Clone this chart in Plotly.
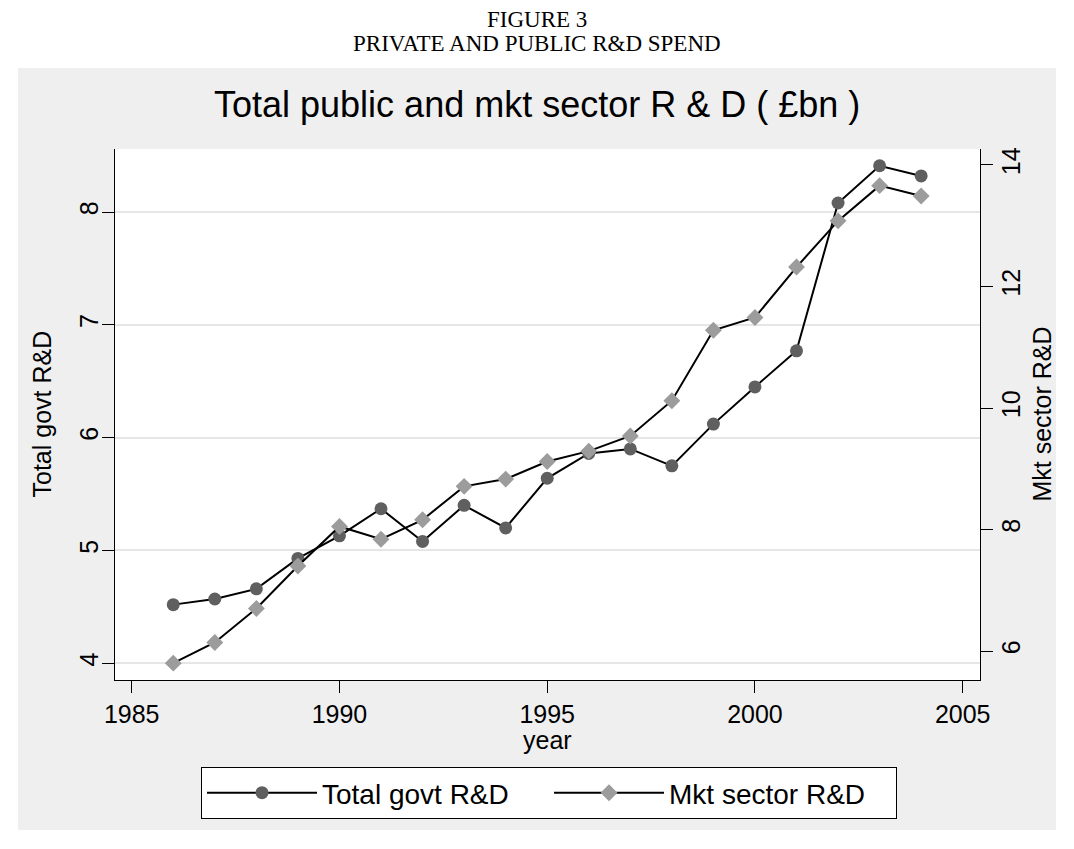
import plotly.graph_objects as go

# ---- data ----
years = list(range(1986, 2005))
govt_rd = [4.52, 4.57, 4.66, 4.93, 5.13, 5.37, 5.08, 5.40, 5.20, 5.64,
           5.86, 5.90, 5.75, 6.12, 6.45, 6.77, 8.08, 8.41, 8.32]
mkt_rd = [5.80, 6.14, 6.70, 7.40, 8.05, 7.84, 8.16, 8.71, 8.83, 9.12,
          9.29, 9.54, 10.12, 11.28, 11.49, 12.32, 13.08, 13.66, 13.49]
x_ticks = [1985, 1990, 1995, 2000, 2005]
y_left_ticks = [4, 5, 6, 7, 8]
y_right_ticks = [6, 8, 10, 12, 14]

header1 = "FIGURE 3"
header2 = "PRIVATE AND PUBLIC R&D SPEND"
chart_title = "Total public and mkt sector R & D ( £bn )"

# ---- layout geometry (pixels in the 1074x849 page) ----
OFF = 8                      # default page margin of the html body
W, H = 1074 - OFF, 849 - OFF
L, R, T, B = 115, 980, 149, 680


def px_x(px):
    return (px - L) / (R - L)


def px_y(py):
    return (B - py) / (B - T)


SANS = "Liberation Sans, Arial, sans-serif"
SERIF = "Liberation Serif, Times New Roman, serif"

fig = go.Figure()
fig.add_trace(go.Scatter(
    x=years, y=govt_rd, name="Total govt R&D", mode="lines+markers",
    line=dict(color="black", width=2),
    marker=dict(symbol="circle", size=13, color="#5f5f5f"),
    yaxis="y"))
fig.add_trace(go.Scatter(
    x=years, y=mkt_rd, name="Mkt sector R&D", mode="lines+markers",
    line=dict(color="black", width=2),
    marker=dict(symbol="diamond", size=13, color="#9c9c9c"),
    yaxis="y2"))

fig.update_layout(
    width=W, height=H,
    margin=dict(l=L - OFF, r=1074 - R, t=T - OFF, b=849 - B, pad=0),
    paper_bgcolor="white", plot_bgcolor="white",
    font=dict(family=SANS, size=25, color="black"),
    showlegend=True,
    legend=dict(orientation="h", x=px_x(549), y=px_y(793),
                xanchor="center", yanchor="middle",
                bgcolor="white", bordercolor="black", borderwidth=1,
                font=dict(family=SANS, size=28), itemwidth=110,
                entrywidth=222, traceorder="normal"),
    xaxis=dict(range=[1984.598, 2005.416], tickvals=x_ticks,
               showgrid=False, zeroline=False,
               showline=True, linecolor="black", linewidth=1,
               ticks="outside", ticklen=12, tickcolor="black", tickwidth=1,
               tickfont=dict(size=25)),
    yaxis=dict(range=[3.852, 8.5585], tickvals=y_left_ticks,
               showgrid=True, gridcolor="#e6e6e6", gridwidth=2,
               zeroline=False,
               showline=True, linecolor="black", linewidth=1,
               ticks="outside", ticklen=12, tickcolor="black", tickwidth=1,
               tickangle=-90, tickfont=dict(size=25), ticklabelstandoff=-6),
    yaxis2=dict(range=[5.523, 14.263], tickvals=y_right_ticks,
                overlaying="y", side="right", showgrid=False,
                zeroline=False,
                showline=True, linecolor="black", linewidth=1,
                ticks="outside", ticklen=12, tickcolor="black", tickwidth=1,
                tickangle=-90, tickfont=dict(size=25), ticklabelstandoff=-3),
    shapes=[
        dict(type="rect", xref="paper", yref="paper", layer="below",
             x0=px_x(18), x1=px_x(1056), y0=px_y(830), y1=px_y(68),
             fillcolor="#efefef", line=dict(width=0)),
        dict(type="rect", xref="paper", yref="paper", layer="below",
             x0=0, x1=1, y0=0, y1=1,
             fillcolor="white", line=dict(width=0)),
    ],
    annotations=[
        dict(text=header1, xref="paper", yref="paper", x=px_x(537), y=px_y(19),
             showarrow=False, xanchor="center", yanchor="middle",
             font=dict(family=SERIF, size=23)),
        dict(text=header2, xref="paper", yref="paper", x=px_x(537), y=px_y(44),
             showarrow=False, xanchor="center", yanchor="middle",
             font=dict(family=SERIF, size=23)),
        dict(text=chart_title, xref="paper", yref="paper", x=px_x(537), y=px_y(104),
             showarrow=False, xanchor="center", yanchor="middle",
             font=dict(family=SANS, size=36)),
        dict(text="Total govt R&D", xref="paper", yref="paper", x=px_x(41), y=0.5,
             showarrow=False, xanchor="center", yanchor="middle", textangle=-90,
             font=dict(family=SANS, size=25)),
        dict(text="Mkt sector R&D", xref="paper", yref="paper", x=px_x(1041), y=0.5,
             showarrow=False, xanchor="center", yanchor="middle", textangle=-90,
             font=dict(family=SANS, size=25)),
        dict(text="year", xref="paper", yref="paper", x=0.5, y=px_y(740),
             showarrow=False, xanchor="center", yanchor="middle",
             font=dict(family=SANS, size=25)),
    ],
)

fig.write_html("out.html")
